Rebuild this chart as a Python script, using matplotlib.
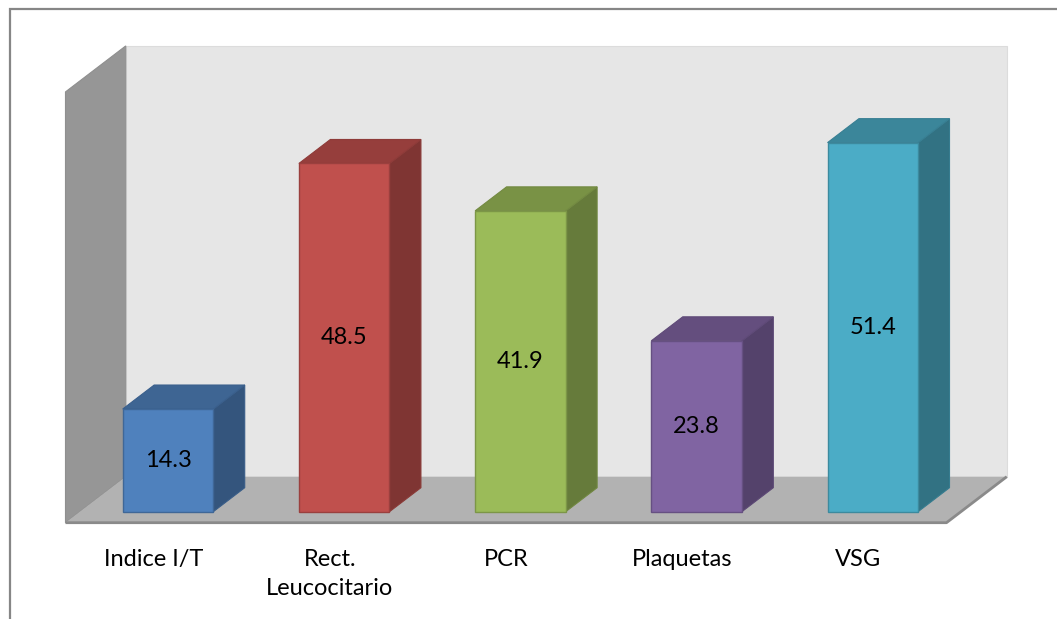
import matplotlib
matplotlib.use("Agg")
import matplotlib.pyplot as plt
from matplotlib.patches import Polygon, Rectangle

# --- data -------------------------------------------------------------
categories = ["Indice I/T", "Rect.\nLeucocitario", "PCR", "Plaquetas", "VSG"]
values = [14.3, 48.5, 41.9, 23.8, 51.4]
value_labels = ["14.3", "48.5", "41.9", "23.8", "51.4"]
y_max = 60

# --- style ------------------------------------------------------------
front_colors = ["#4F81BD", "#C0504D", "#9BBB59", "#8064A2", "#4BACC6"]
plt.rcParams["font.family"] = ["Lato", "DejaVu Sans"]

W, H, DPI = 1057, 619, 100
fig = plt.figure(figsize=(W / DPI, H / DPI), dpi=DPI)
ax = fig.add_axes([0, 0, 1, 1])

# pixel geometry of the drawing (category spacing, value scale, origin)
x0_px, step_px = 168.0, 176.2
y0_px, unit_px = 511.7, 7.18
ax.set_xlim((0 - x0_px) / step_px, (W - x0_px) / step_px)
ax.set_ylim((y0_px - H) / unit_px, y0_px / unit_px)
ax.axis("off")

# oblique depth projection: d = depth in pixels of upward shift
kx = 1.31 / step_px
ky = 1.0 / unit_px


def P(x, v, d):
    return (x + d * kx, v + d * ky)


bar_w = 0.514
bar_depth = 24
floor_front, floor_back = -11, 35
x_left, x_right = -0.5, len(categories) - 0.5


def shade(c, f):
    r, g, b = matplotlib.colors.to_rgb(c)
    return (r * f, g * f, b * f)


# back wall
ax.add_patch(Polygon([P(x_left, 0, floor_back), P(x_right, 0, floor_back),
                      P(x_right, y_max, floor_back), P(x_left, y_max, floor_back)],
                     closed=True, facecolor="#e6e6e6", edgecolor="#dcdcdc", lw=0.8, zorder=1))
# left side wall
ax.add_patch(Polygon([P(x_left, 0, floor_front), P(x_left, 0, floor_back),
                      P(x_left, y_max, floor_back), P(x_left, y_max, floor_front)],
                     closed=True, facecolor="#969696", edgecolor="#8f8f8f", lw=0.8, zorder=2))
# floor
ax.add_patch(Polygon([P(x_left, 0, floor_front), P(x_right, 0, floor_front),
                      P(x_right, 0, floor_back), P(x_left, 0, floor_back)],
                     closed=True, facecolor="#b2b2b2", edgecolor="none", zorder=3))
fx = [P(x_left, 0, floor_front)[0], P(x_right, 0, floor_front)[0], P(x_right, 0, floor_back)[0]]
fy = [P(x_left, 0, floor_front)[1], P(x_right, 0, floor_front)[1], P(x_right, 0, floor_back)[1]]
ax.plot(fx, fy, color="#8a8a8a", lw=2.0, solid_capstyle="butt", zorder=3)

# bars
for i, (val, col, lab) in enumerate(zip(values, front_colors, value_labels)):
    xl, xr = i - bar_w / 2, i + bar_w / 2
    side = [P(xr, 0, 0), P(xr, 0, bar_depth), P(xr, val, bar_depth), P(xr, val, 0)]
    top = [P(xl, val, 0), P(xr, val, 0), P(xr, val, bar_depth), P(xl, val, bar_depth)]
    ax.add_patch(Polygon(side, closed=True, facecolor=shade(col, 0.66),
                         edgecolor=shade(col, 0.72), lw=0.8, zorder=5))
    ax.add_patch(Polygon(top, closed=True, facecolor=shade(col, 0.78),
                         edgecolor=shade(col, 0.74), lw=0.8, zorder=5))
    ax.bar(i, val, width=bar_w, bottom=0, color=col, edgecolor=shade(col, 0.8),
           linewidth=1.0, zorder=6)
    ax.text(i, val / 2, lab, ha="center", va="center", fontsize=17,
            color="black", zorder=7)

# category labels on the front edge of the floor
for i, cat in enumerate(categories):
    x, y = P(i, 0, floor_front)
    ax.text(x, y - 3.6, cat, ha="center", va="top", fontsize=17,
            linespacing=1.5, color="black", zorder=7)

# chart area border (right and bottom sides fall outside the canvas)
fig.patches.append(Rectangle((10, -30), W + 30, H - 9 + 30, transform=None,
                             fill=False, edgecolor="#868686", lw=1.6))

fig.savefig("out.png", dpi=DPI)
